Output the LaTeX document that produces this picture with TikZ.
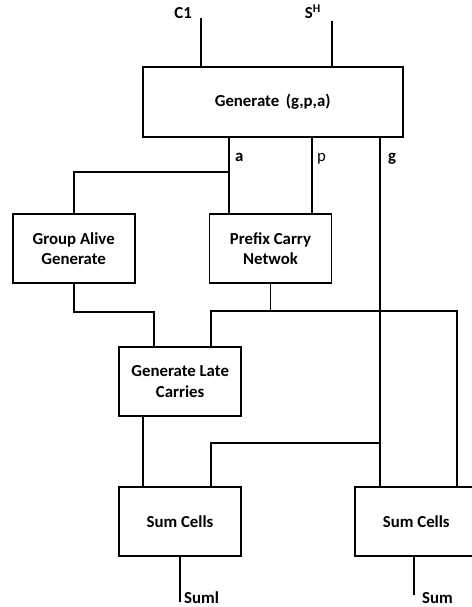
\documentclass[tikz,border=0pt]{standalone}
\usepackage{fontspec}
\setmainfont{Carlito}
\usetikzlibrary{positioning}

\tikzset{
  blk/.style={draw, line width=1.8pt, minimum width=122pt, minimum height=69pt,
              align=center, font=\fontsize{16.8}{20.5}\selectfont\bfseries, inner sep=2pt},
  wire/.style={line width=1.8pt},
  lbl/.style={font=\fontsize{16.8}{20.5}\selectfont\bfseries, inner sep=1pt}
}

\begin{document}
\begin{tikzpicture}[x=1pt, y=-1pt]
            \useasboundingbox (0,0) rectangle (471,607);

            \node[blk, minimum width=260pt, minimum height=70pt] (gen) at (272.7,101.7) {Generate \,(g,p,a)};
            \node[blk] (grp) at (73.7,248.7) {Group Alive\\Generate};
            \node[blk] (pre) at (270.5,248.7) {Prefix Carry\\Netwok};
            \node[blk] (glc) at (180.2,381.4) {Generate Late\\Carries};
            \node[blk] (suml) at (180,521.5) {Sum Cells};
            \node[blk] (sumr) at (416.3,521.5) {Sum Cells};

            % inputs and outputs
            \coordinate (cin) at (201.3,18);
            \coordinate (sin) at (331.7,21);
            \coordinate (soutl) at (180,601.7);
            \coordinate (soutr) at (414.3,595);
            \node[lbl, anchor=base east] (c1) at (193,19) {C1};
            \node[lbl, anchor=base east] (sh) at (322,19) {S\textsuperscript{H}};
            \node[lbl, anchor=base west] (sl) at (183,603.5) {Suml};
            \node[lbl, anchor=base west] (sr) at (421,603.5) {Sum};

            % taps and junctions
            \coordinate (atap) at (229,172.3);
            \coordinate (ptap) at (312,172.3);
            \coordinate (gtap) at (380,442.7);
            \coordinate (gout) at (154.3,311.7);
            \coordinate (pbus) at (210.7,311.3);
            \coordinate (pend) at (456.7,311.3);
            \coordinate (lout) at (142.7,416);

            \node[lbl, anchor=base west] (alb) at (234,161) {a};
            \node[lbl, anchor=base west, font=\fontsize{16.8}{20.5}\selectfont] (plb) at (316,161) {p};
            \node[lbl, anchor=base west] (glb) at (387,161) {g};

            \draw[wire] (cin) -- (cin |- gen.north);
            \draw[wire] (sin) -- (sin |- gen.north);
            \draw[wire] (gen.south -| atap) -- (pre.north -| atap);
            \draw[wire] (atap) -| (grp.north);
            \draw[wire] (gen.south -| ptap) -- (pre.north -| ptap);
            \draw[wire] (gen.south -| gtap) -- (sumr.north -| gtap);
            \draw[wire] (grp.south) |- (gout) -- (glc.north -| gout);
            \draw[wire] (pre.south) -- (pre.south |- pbus);
            \draw[wire] (glc.north -| pbus) -- (pbus) -- (pend) -- (sumr.north -| pend);
            \draw[wire] (glc.south -| lout) -- (suml.north -| lout);
            \draw[wire] (gtap) -| (suml.north -| pbus);
            \draw[wire] (suml.south) -- (soutl);
            \draw[wire] (sumr.south -| soutr) -- (soutr);
        \end{tikzpicture}
\end{document}
